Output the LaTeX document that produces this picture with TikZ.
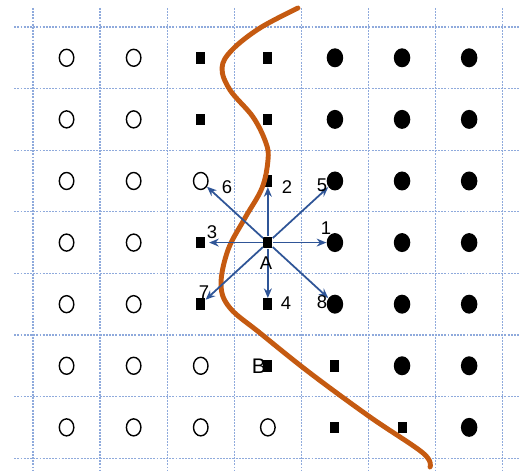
\documentclass[tikz,border=0pt]{standalone}
\usepackage{fontspec}
\setmainfont{Liberation Sans}
\usetikzlibrary{arrows.meta,shapes.geometric}
\definecolor{gridblue}{RGB}{143,170,220}
\definecolor{arrowblue}{RGB}{47,85,151}
\definecolor{boundary}{RGB}{197,90,17}

\begin{document}
\begin{tikzpicture}[x=1.342cm,y=-1.232cm,
    opendot/.style={draw,ellipse,line width=0.8pt,minimum width=0.29cm,minimum height=0.34cm,inner sep=0pt},
    fulldot/.style={fill,ellipse,minimum width=0.33cm,minimum height=0.38cm,inner sep=0pt},
    sqdot/.style={fill,rectangle,minimum width=0.18cm,minimum height=0.23cm,inner sep=0pt},
    gridline/.style={gridblue,line width=0.7pt,dash pattern=on 1.1pt off 0.7pt},
    dirarrow/.style={arrowblue,line width=1pt,-{Stealth[length=5.5pt,width=4.5pt]}},
    lbl/.style={font=\fontsize{10.5}{12}\selectfont,inner sep=0pt}]
        \useasboundingbox (-0.492,-0.438) rectangle (7.243,7.256);
        % dotted grid
        \foreach \k in {0,...,7} {
            \draw[gridline] (\k,-0.31) -- (\k,7.19);
            \draw[gridline] (-0.28,\k) -- (7.24,\k);
        }
        % samples of the two classes
        \foreach \row [count=\j from 0] in {
            {opendot,opendot,sqdot,sqdot,fulldot,fulldot,fulldot},
            {opendot,opendot,sqdot,sqdot,fulldot,fulldot,fulldot},
            {opendot,opendot,opendot,sqdot,fulldot,fulldot,fulldot},
            {opendot,opendot,sqdot,sqdot,fulldot,fulldot,fulldot},
            {opendot,opendot,sqdot,sqdot,fulldot,fulldot,fulldot},
            {opendot,opendot,opendot,sqdot,sqdot,fulldot,fulldot},
            {opendot,opendot,opendot,opendot,sqdot,sqdot,fulldot}}
            \foreach \kind [count=\i from 0] in \row
                \node[\kind] (m-\i-\j) at (\i+0.5,\j+0.5) {};
        % boundary
        \draw[boundary,line width=2.8pt,line cap=round] plot[smooth,tension=0.6] coordinates {
            (3.949,-0.308) (3.383,0.016) (2.966,0.373) (2.817,0.666) (2.936,1.023)
            (3.279,1.461) (3.472,1.883) (3.502,2.159) (3.413,2.614) (3.159,3.101)
            (2.906,3.620) (2.802,4.188) (2.936,4.562) (3.383,4.968) (4.128,5.617)
            (5.022,6.331) (5.812,6.916) (5.917,7.143)};
        % eight neighbours of A
        \draw[dirarrow] (m-3-3) -- (m-4-3);
        \draw[dirarrow] (m-3-3) -- (m-3-2);
        \draw[dirarrow,shorten >=2pt] (m-3-3) -- (m-2-3);
        \draw[dirarrow] (m-3-3) -- (m-3-4);
        \draw[dirarrow] (m-3-3) -- (m-4-2);
        \draw[dirarrow] (m-3-3) -- (m-2-2);
        \draw[dirarrow] (m-3-3) -- (m-2-4);
        \draw[dirarrow] (m-3-3) -- (m-4-4);
        \node[lbl] (n1) at (4.367,3.263) {1};
        \node[lbl] (n2) at (3.785,2.597) {2};
        \node[lbl] (n3) at (2.668,3.328) {3};
        \node[lbl] (n4) at (3.770,4.481) {4};
        \node[lbl] (n5) at (4.307,2.565) {5};
        \node[lbl] (n6) at (2.891,2.597) {6};
        \node[lbl] (n7) at (2.548,4.302) {7};
        \node[lbl] (n8) at (4.307,4.464) {8};
        \node[lbl] (pa) at (3.472,3.831) {A};
        \node[lbl,font=\fontsize{12}{14}\selectfont] (pb) at (3.368,5.503) {B};
    \end{tikzpicture}
\end{document}
